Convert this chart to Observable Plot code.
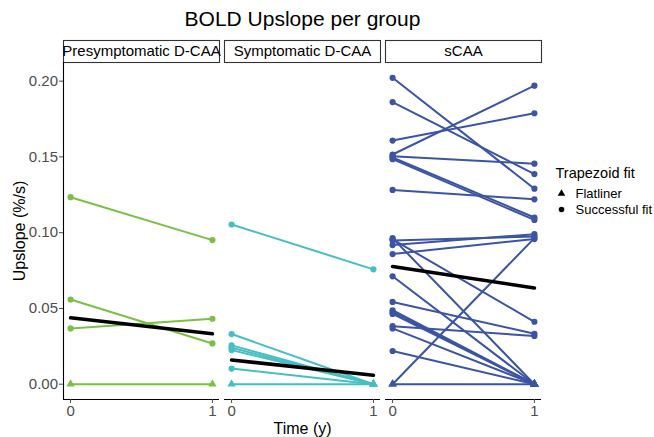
<!DOCTYPE html>
<html>
<head>
<meta charset="utf-8">
<script src="https://cdn.jsdelivr.net/npm/d3@7"></script>
<script src="https://cdn.jsdelivr.net/npm/@observablehq/plot@0.6"></script>
<style>
  html, body { margin: 0; padding: 0; background: white; }
  #chart svg { display: block; }
</style>
</head>
<body>
<div id="chart"></div>
<script>
// ---- data ----
const groups = ["Presymptomatic D-CAA", "Symptomatic D-CAA", "sCAA"];
const groupColors = ["#7ac143", "#45bfc4", "#3b54a4"];
const times = [0, 1];
const yTicks = [0, 0.05, 0.10, 0.15, 0.20];

const presympT0 = [0.1234, 0.0559, 0.0368, 0];
const presympT1 = [0.0951, 0.0269, 0.0432, 0];

const sympT0 = [0.1054, 0.0331, 0.0256, 0.0241, 0.0225, 0.0103, 0];
const sympT1 = [0.0758, 0, 0, 0, 0, 0, 0];

const scaaT0 = [0.2022, 0.1862, 0.1608, 0.1516, 0.1505, 0.1496, 0.1485, 0.1282,
                0.0964, 0.0956, 0.0948, 0.0918, 0.0859, 0.0712, 0.0543, 0.0488,
                0.0475, 0.0464, 0.0383, 0.0368, 0.0219, 0, 0];
const scaaT1 = [0.1290, 0.1387, 0.1788, 0.1970, 0.1455, 0.1100, 0.1084, 0.1220,
                0, 0.0412, 0.0975, 0.0990, 0.0958, 0, 0.0333, 0,
                0, 0, 0.0318, 0, 0, 0.0964, 0];

const trendT0 = [0.0438, 0.0160, 0.0777];
const trendT1 = [0.0333, 0.0059, 0.0635];

const legendLabels = ["Flatliner", "Successful fit"];
const legendSymbols = ["triangle", "circle"];

const title = "BOLD Upslope per group";
const xLabel = "Time (y)";
const yLabel = "Upslope (%/s)";
const legendTitle = "Trapezoid fit";

// ---- build tables ----
const series = [[presympT0, presympT1], [sympT0, sympT1], [scaaT0, scaaT1]];
const rows = [];
series.forEach(([a, b], g) => {
  a.forEach((v0, i) => {
    [v0, b[i]].forEach((v, t) => {
      rows.push({group: groups[g], id: g + "-" + i, time: times[t], value: v,
                 fit: v === 0 ? legendLabels[0] : legendLabels[1]});
    });
  });
});
const trend = [];
groups.forEach((g, k) => {
  trend.push({group: g, time: times[0], value: trendT0[k]});
  trend.push({group: g, time: times[1], value: trendT1[k]});
});

const font = "'Liberation Sans', Arial, Helvetica, sans-serif";

const legendMarks = legendLabels.flatMap((lab, i) => [
  Plot.dot([lab], {fx: [groups[2]], frameAnchor: "right", dx: 20, dy: -37.5 + 16 * i,
                   symbol: d => d, r: 2.8, fill: "black"}),
  Plot.text([lab], {fx: [groups[2]], frameAnchor: "right", dx: 34, dy: -37.5 + 16 * i,
                    text: d => d, textAnchor: "start", lineAnchor: "middle", fontSize: 13, fill: "black"})
]);

const chart = Plot.plot({
  width: 654,
  height: 437,
  marginLeft: 62,
  marginRight: 113,
  marginTop: 62,
  marginBottom: 38,
  style: {fontFamily: font, background: "white", overflow: "visible"},
  fx: {domain: groups, axis: null, paddingInner: 0.032, paddingOuter: 0, label: null},
  x: {domain: [-0.05, 1.05], label: null},
  y: {domain: [-0.0101, 0.2123], label: null},
  color: {domain: groups, range: groupColors},
  symbol: {domain: legendLabels, range: legendSymbols},
  marks: [
    // strip boxes and labels
    Plot.frame({stroke: "#333333", strokeWidth: 1.1, fill: "white", insetTop: -22, insetBottom: 337}),
    Plot.text(groups, {fx: d => d, text: d => d, frameAnchor: "top", dy: -11,
                       lineAnchor: "middle", fontSize: 15, fill: "black"}),
    // axes
    Plot.ruleY([-0.0101], {stroke: "black", strokeWidth: 1.1}),
    Plot.ruleX([-0.05], {fx: [groups[0]], stroke: "black", strokeWidth: 1.1}),
    Plot.axisY({ticks: yTicks, tickFormat: ".2f", tickSize: 4, tickPadding: 1.5,
                fontSize: 15, color: "#4d4d4d", label: null}),
    Plot.axisX({ticks: times, tickFormat: d => String(d), tickSize: 4, tickPadding: 2,
                fontSize: 15, color: "#4d4d4d", label: null}),
    // data
    Plot.line(rows, {fx: "group", x: "time", y: "value", z: "id", stroke: "group",
                     strokeWidth: 2}),
    Plot.dot(rows, {fx: "group", x: "time", y: "value", fill: "group", symbol: "fit", r: 3.1}),
    Plot.line(trend, {fx: "group", x: "time", y: "value", z: "group", stroke: "black",
                      strokeWidth: 3.6}),
    // titles
    Plot.text([title], {fx: [groups[1]], frameAnchor: "top", dy: -43, text: d => d,
                        lineAnchor: "middle", fontSize: 21, fill: "black"}),
    Plot.text([xLabel], {fx: [groups[1]], frameAnchor: "bottom", dy: 29, text: d => d,
                         lineAnchor: "middle", fontSize: 16, fill: "black"}),
    Plot.text([yLabel], {fx: [groups[0]], frameAnchor: "left", dx: -44, rotate: -90,
                         text: d => d, textAnchor: "middle", lineAnchor: "middle",
                         fontSize: 16, fill: "black"}),
    // legend
    Plot.text([legendTitle], {fx: [groups[2]], frameAnchor: "right", dx: 14, dy: -58,
                              text: d => d, textAnchor: "start", lineAnchor: "middle",
                              fontSize: 14.5, fill: "black"}),
    ...legendMarks
  ]
});
document.getElementById("chart").appendChild(chart);
</script>
</body>
</html>
